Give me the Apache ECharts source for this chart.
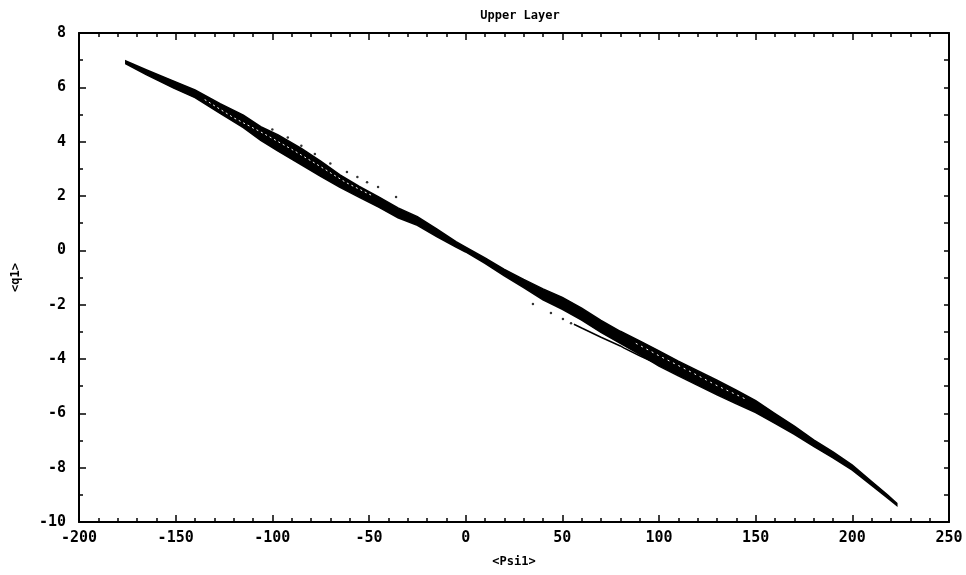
<!DOCTYPE html>
<html>
<head>
<meta charset="utf-8">
<script src="https://cdn.jsdelivr.net/npm/echarts@6/dist/echarts.min.js"></script>
<style>
html,body{margin:0;padding:0;background:#fff;}
#chart{width:966px;height:575px;}
</style>
</head>
<body>
<div id="chart"></div>
<script>
// Upper edge of the dense point band [<Psi1>, <q1>]
var bandUpper = [[-175.8,6.97],[-165,6.64],[-151,6.23],[-140,5.90],[-127,5.40],[-115,4.98],[-106,4.55],[-97,4.25],[-85,3.75],[-75,3.28],[-65,2.78],[-55,2.35],[-45,1.97],[-35,1.56],[-25,1.24],[-15,0.79],[-5,0.32],[0,0.12],[10,-0.28],[20,-0.70],[30,-1.07],[40,-1.42],[50,-1.73],[60,-2.13],[70,-2.58],[80,-2.98],[90,-3.33],[100,-3.70],[110,-4.08],[120,-4.43],[130,-4.78],[140,-5.15],[150,-5.53],[160,-6.01],[170,-6.47],[180,-6.98],[190,-7.42],[200,-7.91],[210,-8.51],[218,-8.99],[223,-9.31]];
// Lower edge of the dense point band
var bandLower = [[-175.8,6.87],[-165,6.46],[-151,5.97],[-140,5.62],[-127,5.04],[-115,4.52],[-106,4.05],[-97,3.65],[-85,3.15],[-75,2.72],[-65,2.32],[-55,1.95],[-45,1.59],[-35,1.20],[-25,0.92],[-15,0.51],[-5,0.12],[0,-0.06],[10,-0.48],[20,-0.94],[30,-1.37],[40,-1.82],[50,-2.17],[60,-2.57],[70,-3.02],[80,-3.42],[90,-3.83],[100,-4.26],[110,-4.62],[120,-4.97],[130,-5.32],[140,-5.65],[150,-5.97],[160,-6.37],[170,-6.77],[180,-7.22],[190,-7.64],[200,-8.09],[210,-8.65],[218,-9.10],[223,-9.39]];
// Separate thin strand below the band
var lowerStrand = [[56,-2.72],[60,-2.86],[70,-3.20],[80,-3.52],[82,-3.60],[90,-3.88],[99,-4.18]];
// Gaps (white striations) inside the band
var gapA = [[-135,5.55],[-120,4.88],[-105,4.32],[-90,3.72],[-75,3.08],[-62,2.50],[-48,2.00]];
var gapB = [[88,-3.42],[100,-3.88],[115,-4.42],[130,-4.98],[145,-5.48]];
// Scattered points off the band
var outliers = [[34.8,-1.98],[44.1,-2.31],[50.3,-2.53],[54.5,-2.68],[-61.4,2.88],[-51.0,2.51],[-45.3,2.33],[-36.0,1.96],[-100,4.45],[-92,4.15],[-85,3.85],[-78,3.55],[-70,3.20],[-56,2.70]];
var xTicks = [-200,-150,-100,-50,0,50,100,150,200,250];
var yTicks = [-10,-8,-6,-4,-2,0,2,4,6,8];

var FONT = 'DejaVu Sans Mono';
var chart = echarts.init(document.getElementById('chart'));
var lab = {color:'#000', fontFamily:FONT, fontWeight:'bold', fontSize:15};
var nameLab = {color:'#000', fontFamily:FONT, fontWeight:'bold', fontSize:12};
var line = {show:true, onZero:false, lineStyle:{color:'#000', width:2}};
chart.setOption({
  animation:false,
  backgroundColor:'#fff',
  title:{text:'Upper Layer', left:515, top:5, textAlign:'center',
    textStyle:{color:'#000', fontFamily:FONT, fontWeight:'bold', fontSize:12}},
  grid:{left:79, right:17, top:33, bottom:53},
  xAxis:[
    {type:'value', min:xTicks[0], max:xTicks[xTicks.length-1], interval:50, position:'bottom',
     axisLine:line, axisTick:{show:true, inside:true, length:7, lineStyle:{color:'#000', width:1.5}},
     minorTick:{show:true, splitNumber:5, length:4, lineStyle:{color:'#000', width:1.5}},
     splitLine:{show:false}, minorSplitLine:{show:false},
     axisLabel:Object.assign({margin:9}, lab),
     name:'<Psi1>', nameLocation:'middle', nameGap:34, nameTextStyle:nameLab},
    {type:'value', min:xTicks[0], max:xTicks[xTicks.length-1], interval:50, position:'top',
     axisLine:line, axisTick:{show:true, inside:true, length:7, lineStyle:{color:'#000', width:1.5}},
     minorTick:{show:true, splitNumber:5, length:4, lineStyle:{color:'#000', width:1.5}},
     splitLine:{show:false}, axisLabel:{show:false}}
  ],
  yAxis:[
    {type:'value', min:yTicks[0], max:yTicks[yTicks.length-1], interval:2, position:'left',
     axisLine:line, axisTick:{show:true, inside:true, length:7, lineStyle:{color:'#000', width:1.5}},
     minorTick:{show:true, splitNumber:2, length:4, lineStyle:{color:'#000', width:1.5}},
     splitLine:{show:false},
     axisLabel:Object.assign({margin:13}, lab),
     name:'<q1>', nameLocation:'middle', nameGap:57, nameRotate:90, nameTextStyle:nameLab},
    {type:'value', min:-10, max:8, interval:1, position:'right',
     axisLine:line, axisTick:{show:true, inside:true, length:5, lineStyle:{color:'#000', width:1.5}},
     splitLine:{show:false}, axisLabel:{show:false}}
  ],
  series:[
    {type:'custom', xAxisIndex:0, yAxisIndex:0, data:[[0,0]], silent:true,
     renderItem:function(params, api){
       var pts = [];
       bandUpper.forEach(function(p){ pts.push(api.coord(p)); });
       bandLower.slice().reverse().forEach(function(p){ pts.push(api.coord(p)); });
       return {type:'polygon', shape:{points:pts}, style:{fill:'#000', stroke:'#000', lineWidth:1.5}};
     }},
    {type:'line', data:gapA, symbol:'none', silent:true, lineStyle:{color:'#fff', width:1, type:[2,3]}},
    {type:'line', data:gapB, symbol:'none', silent:true, lineStyle:{color:'#fff', width:1, type:[2,4]}},
    {type:'line', data:lowerStrand, symbol:'none', silent:true, lineStyle:{color:'#000', width:1.5}},
    {type:'scatter', data:outliers, symbolSize:2.5, silent:true, itemStyle:{color:'#000'}}
  ]
});
</script>
</body>
</html>
